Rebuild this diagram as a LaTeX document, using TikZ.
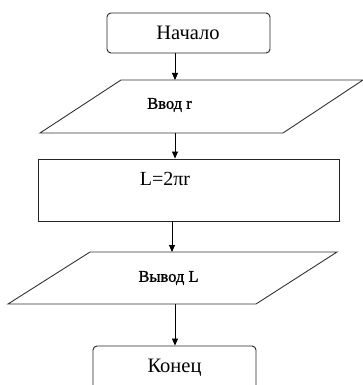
\documentclass[tikz,border=0pt]{standalone}
\usepackage{fontspec}
\setmainfont{Liberation Serif}
\newfontfamily\semibold[FakeBold=1.2]{Liberation Serif}
\usetikzlibrary{arrows.meta}
\tikzset{
  termbox/.style={draw=black!85, line width=0.9pt, rounded corners=4pt, minimum width=163pt, inner sep=0pt},
  procbox/.style={draw=black!85, line width=0.9pt, minimum width=301pt, minimum height=62pt, inner sep=0pt},
  iobox/.style={draw=black!80, line width=0.9pt},
  txt/.style={inner sep=0pt, text=black},
  flow/.style={draw=black, line width=0.8pt, -{Triangle[length=7pt,width=6pt]}}
}
\begin{document}
\begin{tikzpicture}[x=1pt,y=-1pt]
\useasboundingbox (0,0) rectangle (363,385);
% start
\node[termbox, minimum height=40pt] (start) at (188.5,33) {};
\node[txt, font=\fontsize{20.5}{22}\selectfont] (starttext) at (188,33) {Начало};
% input
\coordinate (inTL) at (121,80);
\coordinate (inTR) at (363,80);
\coordinate (inBR) at (283,133);
\coordinate (inBL) at (40,133);
\draw[iobox] (inTL) -- (inTR) -- (inBR) -- (inBL) -- cycle;
\coordinate (intop) at (175,80);
\coordinate (inbot) at (175,133);
\node[txt, font=\semibold\fontsize{16.5}{18}\selectfont] (intext) at (169.5,105) {Ввод r};
% process
\node[procbox] (proc) at (188.5,190) {};
\node[txt, font=\fontsize{20}{22}\selectfont] (proctext) at (165,179) {L=2πr};
% output
\coordinate (outTL) at (90,252);
\coordinate (outTR) at (337,252);
\coordinate (outBR) at (256,304);
\coordinate (outBL) at (8,304);
\draw[iobox] (outTL) -- (outTR) -- (outBR) -- (outBL) -- cycle;
\coordinate (outtop) at (172,252);
\coordinate (outbot) at (175,304);
\node[txt, font=\semibold\fontsize{16.5}{18}\selectfont] (outtext) at (168.5,278) {Вывод L};
% end
\node[termbox, minimum height=44pt] (end) at (174.5,368) {};
\node[txt, font=\fontsize{20.5}{22}\selectfont] (endtext) at (174.5,368) {Конец};
% connectors
\draw[flow] (start.south -| intop) -- (intop);
\draw[flow] (inbot) -- (proc.north -| inbot);
\draw[flow] (proc.south -| outtop) -- (outtop);
\draw[flow] (outbot) -- (end.north -| outbot);
\end{tikzpicture}
\end{document}
